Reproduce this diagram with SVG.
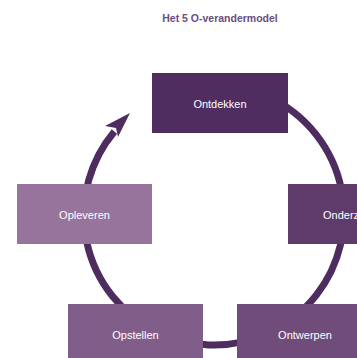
<svg xmlns="http://www.w3.org/2000/svg" width="357" height="358" viewBox="0 0 357 358">
<style>
.lbl{font-family:"Liberation Sans",Arial,sans-serif;font-size:11px;fill:#ffffff;text-anchor:middle}
.title{font-family:"Liberation Sans",Arial,sans-serif;font-size:10.5px;font-weight:bold;fill:#6b4d7e;text-anchor:middle}
.conn{fill:none;stroke:#4e2c60;stroke-width:7}
</style>
<rect width="357" height="358" fill="#ffffff"/>
<text class="title" x="220" y="22">Het 5 O-verandermodel</text>
<g id="connectors">
<path class="conn" d="M214,85 A130,130 0 1 1 114.4,131.4"/>
<path d="M130,113 L105,126 L116,128 L118,137 Z" fill="#4e2c60"/>
</g>
<g id="ontdekken">
<rect x="152" y="73" width="136" height="60" fill="#4f2d61"/>
<text class="lbl" x="220" y="108">Ontdekken</text>
</g>
<g id="onderzoeken">
<rect x="288" y="184" width="136" height="60" fill="#5f3b69"/>
<text class="lbl" x="356" y="219">Onderzoeken</text>
</g>
<g id="ontwerpen">
<rect x="237" y="304" width="136" height="60" fill="#6f4c79"/>
<text class="lbl" x="305" y="339">Ontwerpen</text>
</g>
<g id="opstellen">
<rect x="68" y="304" width="135" height="60" fill="#805e89"/>
<text class="lbl" x="135.5" y="339">Opstellen</text>
</g>
<g id="opleveren">
<rect x="17" y="184" width="135" height="60" fill="#97749c"/>
<text class="lbl" x="84.5" y="219">Opleveren</text>
</g>
</svg>
